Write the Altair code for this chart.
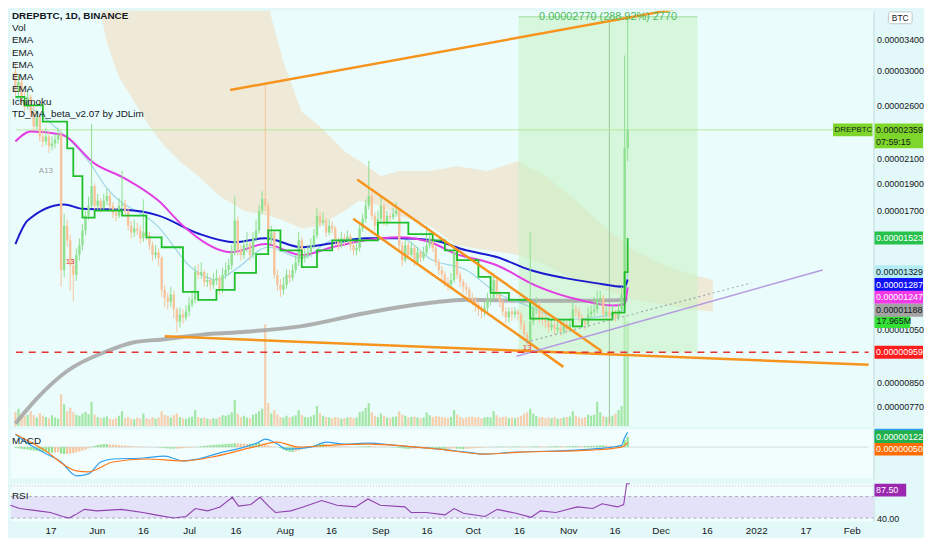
import altair as alt
import pandas as pd

FONT = "Liberation Sans"

# ---------------- data (prices in satoshi = 1e-8 BTC, day 0 = 2021-05-04) ----------------
first_open = 2978
closes = [2750,2862,2643,2590,2695,2538,2391,2488,2297,2251,
          2297,2207,2233,2269,2315,1338,1601,1509,1364,1312,
          1421,1479,1570,1667,1735,1880,1735,1770,1721,1770,
          1806,1735,1687,1667,1735,1749,1701,1601,1557,1582,
          1570,1521,1557,1539,1479,1421,1438,1404,1235,1196,
          1177,1210,1140,1086,1117,1104,1131,1163,1186,1327,
          1312,1327,1275,1285,1260,1285,1296,1235,1312,1338,
          1364,1438,1634,1449,1421,1479,1485,1421,1521,1570,
          1701,1785,1735,1509,1557,1312,1260,1235,1260,1312,
          1296,1338,1381,1509,1404,1421,1438,1479,1539,1667,
          1621,1634,1557,1601,1582,1509,1479,1521,1509,1533,
          1479,1449,1462,1582,1647,1735,1806,1667,1601,1647,
          1735,1621,1667,1654,1680,1701,1479,1392,1479,1421,
          1462,1381,1438,1404,1438,1479,1521,1462,1381,1338,
          1312,1275,1260,1285,1438,1312,1275,1250,1235,1196,
          1186,1163,1140,1131,1149,1186,1196,1285,1210,1177,
          1131,1104,1131,1117,1131,1117,1073,1031,1003,1086,
          1149,1163,1104,1095,1086,1060,1073,1052,1060,1043,
          1073,1052,1073,1140,1131,1104,1086,1073,1117,1131,
          1140,1186,1196,1117,1131,1113,1126,1104,1140,1210,
          2189,2359]
highs = [3100,2950,2900,2750,2780,2720,2600,2560,2520,2360,
         2380,2340,2300,2320,2380,2340,1680,1640,1540,1400,
         1460,1520,1610,1700,1800,2420,1900,1820,1790,1820,
         1860,1830,1760,1720,1790,2000,1780,1720,1630,1640,
         1620,1600,1780,1590,1560,1500,1480,1460,1420,1260,
         1220,1250,1230,1150,1150,1140,1160,1200,1230,1360,
         1370,1380,1340,1320,1300,1320,1340,1310,1350,1380,
         1400,1480,1800,1660,1480,1510,1560,1500,1560,1640,
         1740,1840,2862,1760,1600,1570,1340,1290,1300,1340,
         1340,1370,1420,1560,1530,1460,1480,1520,1580,1720,
         1690,1690,1650,1640,1630,1600,1530,1560,1550,1570,
         1550,1500,1500,1620,1680,1780,2080,1830,1690,1700,
         1800,1750,1700,1690,1720,1760,1720,1500,1510,1500,
         1500,1480,1470,1450,1470,1600,1560,1540,1480,1400,
         1360,1330,1300,1320,1480,1450,1330,1290,1270,1250,
         1220,1200,1180,1160,1180,1220,1230,1320,1300,1230,
         1190,1150,1150,1150,1150,1140,1130,1090,1040,1560,
         1180,1200,1180,1130,1120,1100,1100,1090,1090,1075,
         1100,1090,1100,1180,1160,1150,1120,1100,1150,1160,
         1200,1230,1230,1210,1160,1150,1160,1140,1170,1250,
         3189,3743]
lows = [2700,2700,2600,2540,2560,2480,2350,2360,2250,2200,
        2220,2150,2170,2190,2230,1250,1300,1470,1230,1180,
        1280,1390,1450,1540,1640,1720,1700,1700,1690,1700,
        1740,1700,1650,1630,1650,1700,1670,1570,1520,1530,
        1540,1490,1500,1510,1450,1390,1400,1360,1200,1150,
        1140,1150,1100,1040,1060,1075,1090,1110,1150,1170,
        1290,1290,1250,1250,1230,1240,1260,1210,1220,1290,
        1310,1340,1420,1420,1390,1400,1440,1390,1400,1500,
        1550,1680,1700,1480,1480,1290,1230,1200,1210,1240,
        1270,1280,1320,1360,1380,1380,1400,1410,1460,1520,
        1590,1600,1530,1540,1550,1480,1450,1460,1480,1490,
        1450,1420,1420,1440,1560,1620,1710,1640,1570,1580,
        1620,1600,1600,1630,1640,1660,1450,1360,1380,1400,
        1410,1360,1370,1380,1390,1420,1460,1440,1360,1310,
        1280,1250,1230,1240,1270,1290,1250,1220,1210,1170,
        1160,1130,1110,1100,1110,1130,1160,1180,1190,1150,
        1110,1080,1080,1090,1100,1090,1050,1010,985,990,
        1070,1120,1080,1070,1060,1040,1045,1030,1035,1025,
        1030,1035,1040,1060,1110,1085,1065,1050,1060,1100,
        1110,1120,1160,1100,1100,1095,1100,1085,1090,1120,
        1190,2078]
volumes = [2.5,3.0,2.2,1.8,2.0,2.6,1.9,1.5,2.2,1.8,
           1.6,1.4,1.9,1.5,1.3,5.5,3.8,2.6,3.2,2.4,
           2.0,1.8,2.2,2.5,2.1,4.2,2.0,1.6,1.4,1.5,
           1.7,1.3,1.2,1.4,1.8,2.6,1.4,1.6,1.3,1.2,
           1.5,1.3,2.2,1.4,1.2,1.6,1.3,1.5,2.6,2.0,
           1.8,1.5,1.9,2.2,1.6,1.4,1.3,1.5,1.7,2.8,
           1.6,1.4,1.5,1.3,1.2,1.4,1.3,1.6,1.9,1.8,
           2.0,2.4,4.5,2.2,1.6,1.8,1.5,1.4,2.0,2.2,
           2.6,3.0,17.5,4.0,2.2,2.8,2.0,1.6,1.5,1.8,
           1.5,1.7,1.9,2.8,2.0,1.6,1.5,1.7,2.0,3.5,
           2.2,1.8,1.6,1.5,1.4,1.6,1.5,1.3,1.4,1.5,
           1.6,1.4,1.5,2.4,2.6,3.2,4.0,2.4,1.8,1.6,
           2.2,1.8,1.5,1.4,1.6,1.7,2.6,2.0,1.8,1.5,
           1.6,1.7,1.5,1.4,1.5,2.4,1.9,1.6,1.8,1.7,
           1.6,1.5,1.4,1.6,2.8,2.0,1.6,1.4,1.5,1.6,
           1.7,1.5,1.6,1.4,1.5,1.6,1.5,2.6,1.9,1.5,
           1.6,1.7,1.4,1.5,1.4,1.6,1.8,2.2,2.4,3.0,
           2.2,1.8,1.5,1.6,1.4,1.5,1.4,1.6,1.3,1.4,
           1.5,1.6,1.7,2.6,1.8,1.5,1.4,1.6,2.0,1.8,
           2.0,4.2,2.4,1.8,1.6,1.7,1.8,2.2,2.8,3.5,
           19.0,17.965]

# moving averages / indicators (day, value)
tenkan_days = [0,3,9,17,19,22,26,35,43,48,55,60,66,72,79,83,87,94,99,104,113,119,129,137,141,145,152,156,162,169,175,183,186,196,200,201]
tenkan_vals = [2695,2605,2439,2189,1957,1654,1701,1667,1527,1467,1225,1186,1235,1322,1427,1570,1449,1354,1449,1509,1509,1621,1547,1509,1449,1392,1301,1220,1186,1099,1095,1065,1095,1126,1327,1523]
cyan_days = [0,11,24,30,47,58,66,72,83,94,104,115,126,137,148,158,169,180,190,200,201]
cyan_vals = [2695,2439,2078,1863,1592,1347,1285,1338,1467,1404,1509,1521,1527,1392,1338,1220,1153,1095,1104,1140,1329]
magenta_days = [0,5,15,26,36,47,55,71,82,94,104,115,126,137,144,158,171,185,196,200,201]
magenta_vals = [2251,2343,2315,2058,1937,1770,1601,1438,1486,1421,1467,1509,1527,1491,1433,1364,1255,1186,1159,1165,1247]
blue_days = [0,4,16,22,36,47,60,72,82,94,104,115,126,137,148,158,169,180,190,200,201]
blue_vals = [1485,1634,1744,1714,1707,1667,1551,1497,1521,1467,1491,1521,1521,1509,1449,1410,1338,1296,1270,1250,1287]
grey_days = [0,7,17,30,39,49,62,72,94,115,137,148,169,190,201]
grey_vals = [719,795,889,963,999,1011,1031,1039,1066,1124,1173,1186,1181,1181,1188]

cloud_days = [28,30,34,39,44,49,54,60,67,75,83,88,94,100,108,113,120,126,136,145,155,165,174,184,193,203,213,222,229]
cloud_top = [3900,3900,3900,3900,3900,3900,3900,3900,3900,3900,3900,3100,2538,2391,2163,2078,1957,1997,1997,2037,1997,2078,1957,1770,1601,1449,1364,1312,1285]
cloud_bot = [3800,3359,2919,2643,2391,2207,2078,1957,1806,1701,1667,1634,1582,1601,1701,1770,1735,1667,1601,1479,1449,1421,1364,1285,1235,1186,1163,1140,1131]

# drawings: (day0, price0, day1, price1)
trend_lines = [(70.5, 2772, 227.8, 3943),
               (112.2, 1930, 192.5, 963),
               (110.9, 1647, 179.9, 904),
               (49.0, 1023, 280.1, 912)]
purple_line = (164.5, 944, 265.0, 1338)
dotted_line = (167.7, 999, 241.6, 1270)
support_price = 959
measure = dict(d0=165.2, d1=223.9, p0=959, p1=3728)
measure_text = "0.00002770 (288.92%) 2770"
measure_vline_day = 195
last_price = 2359

macd_hist = [-10,-15,-20,-25,-30,-35,
             -40,-45,-50,-55,-60,-62,-65,-60,-58,-75,-80,-78,-75,-70,-60,-50,-40,-30,-15,
             5,15,25,30,35,35,30,28,25,22,20,18,15,12,10,
             8,6,5,3,2,0,-2,-4,
             -8,-12,-15,-18,-20,-18,-15,-12,-10,-8,-5,-2,
             5,10,15,18,22,25,28,30,32,35,38,40,45,42,40,38,36,40,42,44,46,40,30,
             20,10,5,0,
             -15,-30,-45,-55,-58,-50,-40,-28,-15,
             0,10,20,30,38,40,35,28,20,12,
             8,6,5,4,3,2,2,5,8,10,12,10,8,5,3,2,0,-2,-4,-6,
             -10,-15,-20,-22,-20,-18,-15,-12,-10,-8,
             -10,-12,-15,-18,-20,-22,-20,-18,-15,-18,-20,-22,-20,-18,-15,-12,-10,-8,-5,-2,
             2,3,4,5,6,5,4,5,6,8,6,5,4,6,8,10,8,6,5,6,8,10,12,10,8,9,10,12,14,12,10,12,14,15,
             16,18,20,22,18,16,14,15,18,25,80,122]
macd_days = [0,3,9,15,20,24,28,32,42,49,55,60,68,74,80,82,86,89,97,102,108,116,124,131,139,148,154,164,177,189,196,199,200,201]
macd_vals = [150,69,-58,-173,-334,-311,-173,-138,-127,-104,-161,-138,-58,-12,58,92,35,-23,0,58,35,46,23,0,-23,-58,-81,-58,-46,-23,0,20,110,172]
signal_days = [0,9,20,24,32,43,55,66,78,86,93,104,116,128,139,154,166,189,199,200,201]
signal_vals = [150,-23,-276,-288,-173,-138,-161,-104,0,58,0,23,35,12,-23,-81,-58,-35,0,20,50]
rsi_days = [0,3,9,13,17,19,21,24,28,36,43,47,53,57,60,64,68,72,74,78,81,84,86,91,95,101,106,112,116,120,128,130,135,141,144,147,154,158,164,169,172,177,184,189,192,197,199,200,201]
rsi_vals = [51.9,48.9,46.7,45.2,41.5,40.0,43.0,48.1,46.7,48.1,45.2,43.0,40.0,41.5,48.9,46.7,50.4,59.3,51.1,52.6,59.3,50.4,45.2,46.7,50.4,56.3,51.9,50.4,57.8,51.9,50.4,45.2,45.2,43.0,48.9,44.4,41.5,48.1,44.4,40.7,46.7,45.2,50.4,48.9,53.3,50.4,52.6,84.0,87.5]

tick_days = [13,28,43,58,73,89,104,120,135,150,165,181,196,211,226,242,258,273]
tick_labels = ["17","Jun","16","Jul","16","Aug","16","Sep","16","Oct","16","Nov","16","Dec","16","2022","17","Feb"]
price_ticks = [770, 850, 1050, 1700, 1900, 2100, 2600, 3000, 3400]
rsi_ticks = [40]
legend_lines = ["DREPBTC, 1D, BINANCE", "Vol", "EMA", "EMA", "EMA", "EMA", "EMA", "Ichimoku", "TD_MA_beta_v2.07 by JDLim"]
td_labels = [("A13", 10, 1997, "#9e9e9e"), ("13", 18, 1381, "#e53935"), ("13", 168, 975, "#e53935")]

# ---------------- styles ----------------
W, H = 872, 420
X0, X1 = 0.16, 280.1
BG = "#e3f8f8"
MAIN_BG = "#eafcfc"
PANEL_BG = "#f2fefe"
TXT = "#131722"
UP, DOWN = "#4c9e3a", "#f06a6a"
ORANGE = "#f7941d"
BOX_W = 50

xs = alt.Scale(domain=[X0, X1], nice=False, zero=False)
ps = alt.Scale(type="log", domain=[710.7, 3818.6], nice=False, zero=False)
price_axis = alt.Axis(orient="right", values=price_ticks,
                      labelExpr="format(datum.value/100000000, '.8f')",
                      title=None, grid=False, ticks=False, domain=True, domainColor="#c3dcdc",
                      labelFontSize=9, labelColor=TXT, labelPadding=3, labelFont=FONT)


def X(f="day"):
    return alt.X(f + ":Q", scale=xs, axis=None)


def PY(f):
    return alt.Y(f + ":Q", scale=ps, axis=price_axis)


def line_df(days, vals):
    return pd.DataFrame({"day": days, "v": vals})


n = len(closes)
opens = [first_open] + closes[:-1]
candles = pd.DataFrame({"day": list(range(n)), "open": opens, "close": closes,
                        "high": highs, "low": lows, "vol": volumes})
candles["dir"] = ["up" if c >= o else "down" for o, c in zip(opens, closes)]
dir_color = alt.Color("dir:N", scale=alt.Scale(domain=["up", "down"], range=[UP, DOWN]), legend=None)

# ---------------- volume layer ----------------
vs = alt.Scale(domain=[0, 71.2], nice=False, zero=True)
vol_bars = alt.Chart(candles).mark_bar(size=2.2, opacity=0.8, clip=True).encode(
    x=X(), y=alt.Y("vol:Q", scale=vs, axis=None),
    color=alt.Color("dir:N", scale=alt.Scale(domain=["up", "down"], range=["#8fe08f", "#f7c39a"]), legend=None))
vol_last = pd.DataFrame({"v": [volumes[-1]], "t": [f"{volumes[-1]:.3f}M"]})
vol_box = alt.Chart(vol_last).mark_rect(fill="#33e033", yOffset=-6.5, y2Offset=6.5).encode(
    x=alt.value(W + 1), x2=alt.value(W + 37), y=alt.Y("v:Q", scale=vs, axis=None), y2="v:Q")
vol_txt = alt.Chart(vol_last).mark_text(align="left", baseline="middle", font=FONT, fontSize=9, color=TXT).encode(
    x=alt.value(W + 3), y=alt.Y("v:Q", scale=vs, axis=None), text="t:N")
vol_layer = alt.layer(vol_bars, vol_box, vol_txt)

# ---------------- price layers ----------------
P = []
cloud = pd.DataFrame({"day": cloud_days, "top": cloud_top, "bot": cloud_bot})
P.append(alt.Chart(cloud).mark_area(color="#f1dcc0", opacity=0.6, clip=True).encode(
    x=X(), y=PY("top"), y2="bot:Q"))

mdf = pd.DataFrame({k: [v] for k, v in measure.items()})
P.append(alt.Chart(mdf).mark_rect(color="#c6f2c2", opacity=0.55, clip=True).encode(
    x=alt.X("d0:Q", scale=xs, axis=None), x2="d1:Q", y=PY("p0"), y2="p1:Q"))
P.append(alt.Chart(mdf).mark_rule(color="#9fdc9a", strokeWidth=1, clip=True).encode(
    x=alt.X("d0:Q", scale=xs, axis=None), x2="d1:Q", y=PY("p1")))
vdf = pd.DataFrame({"day": [measure_vline_day], "a": [720], "b": [measure["p1"]]})
P.append(alt.Chart(vdf).mark_rule(color="#9cc79c", strokeWidth=1, clip=True).encode(
    x=X(), y=PY("a"), y2="b:Q"))
lp = pd.DataFrame({"a": [X0], "b": [X1], "p": [last_price]})
P.append(alt.Chart(lp).mark_rule(color="#b5e89a", strokeWidth=1, clip=True).encode(
    x=alt.X("a:Q", scale=xs, axis=None), x2="b:Q", y=PY("p")))

P.append(alt.Chart(line_df(grey_days, grey_vals)).mark_line(
    color="#a9a9a9", strokeWidth=4, opacity=0.9, interpolate="monotone", clip=True).encode(x=X(), y=PY("v")))
P.append(alt.Chart(line_df(cyan_days, cyan_vals)).mark_line(
    color="#9ed6e4", strokeWidth=1.2, interpolate="monotone", clip=True).encode(x=X(), y=PY("v")))
P.append(alt.Chart(line_df(blue_days, blue_vals)).mark_line(
    color="#1a1ad0", strokeWidth=2, interpolate="monotone", clip=True).encode(x=X(), y=PY("v")))
P.append(alt.Chart(line_df(magenta_days, magenta_vals)).mark_line(
    color="#e33ee3", strokeWidth=2, interpolate="monotone", clip=True).encode(x=X(), y=PY("v")))

# candles
P.append(alt.Chart(candles).mark_rule(strokeWidth=1, clip=True).encode(
    x=X(), y=PY("low"), y2="high:Q", color=dir_color))
P.append(alt.Chart(candles).mark_bar(size=2.4, clip=True).encode(
    x=X(), y=PY("open"), y2="close:Q", color=dir_color))

P.append(alt.Chart(line_df(tenkan_days, tenkan_vals)).mark_line(
    color="#1fbf2a", strokeWidth=1.8, interpolate="step-after", clip=True).encode(x=X(), y=PY("v")))

# drawings
for (d0, p0, d1, p1) in trend_lines:
    P.append(alt.Chart(pd.DataFrame({"day": [d0, d1], "v": [p0, p1]})).mark_line(
        color=ORANGE, strokeWidth=2.5, clip=True).encode(x=X(), y=PY("v")))
d0, p0, d1, p1 = purple_line
P.append(alt.Chart(pd.DataFrame({"day": [d0, d1], "v": [p0, p1]})).mark_line(
    color="#b59be0", strokeWidth=1.5, clip=True).encode(x=X(), y=PY("v")))
d0, p0, d1, p1 = dotted_line
P.append(alt.Chart(pd.DataFrame({"day": [d0, d1], "v": [p0, p1]})).mark_line(
    color="#9aaaaa", strokeWidth=1.2, strokeDash=[2, 3], clip=True).encode(x=X(), y=PY("v")))
sup = pd.DataFrame({"a": [X0], "b": [X1], "p": [support_price]})
P.append(alt.Chart(sup).mark_rule(color="#e8322f", strokeWidth=1.6, strokeDash=[7, 6]).encode(
    x=alt.X("a:Q", scale=xs, axis=None), x2="b:Q", y=PY("p")))

# text annotations
P.append(alt.Chart(pd.DataFrame({"day": [(measure["d0"] + measure["d1"]) / 2], "t": [measure_text]})).mark_text(
    baseline="top", align="center", font=FONT, fontSize=11, color="#4cbb5a").encode(
    x=X(), y=alt.value(0), text="t:N"))
for (t, d, p, c) in td_labels:
    P.append(alt.Chart(pd.DataFrame({"day": [d], "p": [p], "t": [t]})).mark_text(
        font=FONT, fontSize=8, color=c).encode(x=X(), y=PY("p"), text="t:N"))
for k, t in enumerate(legend_lines):
    P.append(alt.Chart(pd.DataFrame({"t": [t]})).mark_text(
        align="left", baseline="middle", font=FONT, fontSize=10, color=TXT,
        fontWeight="bold" if k == 0 else "normal").encode(
        x=alt.value(1), y=alt.value(5 + 12.4 * k), text="t:N"))


def box_layers(yenc, value, fill, tc, txt, nudge=0.0, x0=W + 1, x1=W + BOX_W, extra=0.0, fs=9):
    d = pd.DataFrame({"p": [value], "t": [txt]})
    r = alt.Chart(d).mark_rect(fill=fill, yOffset=nudge - 6.5, y2Offset=nudge + 6.5 + extra).encode(
        x=alt.value(x0), x2=alt.value(x1), y=yenc, y2="p:Q")
    tt = alt.Chart(d).mark_text(align="left", baseline="middle", font=FONT, fontSize=fs, color=tc,
                                yOffset=nudge).encode(x=alt.value(x0 + 1.5), y=yenc, text="t:N")
    return [r, tt]


# right-hand price labels
box_prices = [1523, 1329, 1287, 1247, 1188, 959]
box_fills = ["#27c24c", "#b4ecf3", "#1111f5", "#f23be6", "#a3a3a3", "#ff1c1c"]
box_tcolors = ["white", TXT, "white", "white", TXT, "white"]
box_nudges = [0, 0, 5, 10, 11, 0]
for p, f, tc, nd in zip(box_prices, box_fills, box_tcolors, box_nudges):
    P += box_layers(PY("p"), p, f, tc, f"{p / 1e8:.8f}", nd)
P += box_layers(PY("p"), last_price, "#7fd62a", TXT, f"{last_price / 1e8:.8f}", 0, extra=12)
P.append(alt.Chart(pd.DataFrame({"p": [last_price], "t": ["07:59:15"]})).mark_text(
    align="left", baseline="middle", font=FONT, fontSize=9, color=TXT, yOffset=12).encode(
    x=alt.value(W + 2.5), y=PY("p"), text="t:N"))
P += box_layers(PY("p"), last_price, "#7fd62a", TXT, "DREPBTC", 0, x0=W - 41, x1=W - 1, fs=8)
P.append(alt.Chart(pd.DataFrame({"t": ["BTC"]})).mark_rect(
    fill="white", stroke="#b9c9c9", strokeWidth=1, cornerRadius=2).encode(
    x=alt.value(W + 15), x2=alt.value(W + 39), y=alt.value(1), y2=alt.value(13)))
P.append(alt.Chart(pd.DataFrame({"t": ["BTC"]})).mark_text(
    font=FONT, fontSize=8.5, color=TXT, baseline="middle").encode(
    x=alt.value(W + 27), y=alt.value(7), text="t:N"))

price_layer = alt.layer(*P)
main = alt.layer(vol_layer, price_layer).resolve_scale(y="independent").properties(
    width=W, height=H, view=alt.ViewBackground(fill=MAIN_BG, stroke=None))

# ---------------- MACD panel ----------------
MH = 50
ms = alt.Scale(domain=[-368, 207], nice=False, zero=False)
macd_axis = alt.Axis(orient="right", values=[0], labels=False, ticks=False, grid=False,
                     domain=True, domainColor="#c3dcdc", title=None)
hist = pd.DataFrame({"day": list(range(len(macd_hist))), "h": macd_hist})
prev = [macd_hist[0]] + macd_hist[:-1]
hist["c"] = [("pu" if h >= q else "pd") if h >= 0 else ("nd" if h <= q else "nu")
             for h, q in zip(macd_hist, prev)]
M = []
M.append(alt.Chart(pd.DataFrame({"a": [X0], "b": [X1], "z": [0]})).mark_rule(
    color="#d0dede", strokeWidth=1).encode(x=alt.X("a:Q", scale=xs, axis=None), x2="b:Q",
                                          y=alt.Y("z:Q", scale=ms, axis=macd_axis)))
M.append(alt.Chart(hist).mark_bar(size=2.2).encode(
    x=X(), y=alt.Y("h:Q", scale=ms, axis=macd_axis),
    color=alt.Color("c:N", scale=alt.Scale(domain=["pu", "pd", "nd", "nu"],
                                           range=["#2bb34a", "#b3e6b5", "#ff9a1f", "#ffe08a"]), legend=None)))
M.append(alt.Chart(line_df(macd_days, macd_vals)).mark_line(
    color="#2f9ff0", strokeWidth=1.2, interpolate="monotone").encode(x=X(), y=alt.Y("v:Q", scale=ms, axis=macd_axis)))
M.append(alt.Chart(line_df(signal_days, signal_vals)).mark_line(
    color="#ff7a1a", strokeWidth=1.2, interpolate="monotone").encode(x=X(), y=alt.Y("v:Q", scale=ms, axis=macd_axis)))
MY = alt.Y("p:Q", scale=ms, axis=macd_axis)
M += box_layers(MY, macd_vals[-1], "#2f9ff0", "#2f9ff0", "", 3)
M += box_layers(MY, signal_vals[-1], "#ff6d00", "white", f"{signal_vals[-1] / 1e8:.8f}", 6.4)
M += box_layers(MY, macd_hist[-1], "#22b14c", "white", f"{macd_hist[-1] / 1e8:.8f}", 0)
M.append(alt.Chart(pd.DataFrame({"t": ["MACD"]})).mark_text(
    align="left", baseline="middle", font=FONT, fontSize=10, color=TXT).encode(
    x=alt.value(1), y=alt.value(12), text="t:N"))
macd = alt.layer(*M).properties(width=W, height=MH, view=alt.ViewBackground(fill=PANEL_BG, stroke=None))

# ---------------- RSI panel ----------------
RH = 38
rs = alt.Scale(domain=[37, 72], nice=False, zero=False, clamp=True)
rsi_axis = alt.Axis(orient="right", values=rsi_ticks, format=".2f", grid=False, ticks=False,
                    domain=True, domainColor="#c3dcdc", title=None, labelFontSize=9,
                    labelColor=TXT, labelPadding=3, labelFont=FONT)
lbl_expr = "[" + ",".join(f"'{s}'" for s in tick_labels) + "][indexof([" + \
           ",".join(str(d) for d in tick_days) + "], datum.value)]"
x_axis = alt.Axis(values=tick_days, labelExpr=lbl_expr, ticks=False, domain=False, grid=False,
                  title=None, labelFontSize=10, labelColor=TXT, labelPadding=4, labelFont=FONT,
                  labelFlush=False, labelOverlap=False)
R = []
R.append(alt.Chart(pd.DataFrame({"a": [40], "b": [60]})).mark_rect(color="#e4e2f8").encode(
    x=alt.value(0), x2=alt.value(W), y=alt.Y("a:Q", scale=rs, axis=rsi_axis), y2="b:Q"))
R.append(alt.Chart(pd.DataFrame({"a": [40, 60]})).mark_rule(
    color="#a9a9b8", strokeDash=[3, 3], strokeWidth=1).encode(
    x=alt.value(0), x2=alt.value(W), y=alt.Y("a:Q", scale=rs, axis=rsi_axis)))
R.append(alt.Chart(pd.DataFrame({"a": [70]})).mark_rule(
    color="#c9b3d9", strokeDash=[1, 2], strokeWidth=1).encode(
    x=alt.value(0), x2=alt.value(W), y=alt.Y("a:Q", scale=rs, axis=rsi_axis)))
R.append(alt.Chart(line_df(rsi_days, rsi_vals)).mark_line(
    color="#9041b0", strokeWidth=1.1).encode(
    x=alt.X("day:Q", scale=xs, axis=x_axis), y=alt.Y("v:Q", scale=rs, axis=rsi_axis)))
R += box_layers(alt.Y("p:Q", scale=rs, axis=rsi_axis), rsi_vals[-1], "#9c27b0", "white",
                f"{rsi_vals[-1]:.2f}", 6.5, x1=W + 33)
R.append(alt.Chart(pd.DataFrame({"t": ["RSI"]})).mark_text(
    align="left", baseline="middle", font=FONT, fontSize=10, color=TXT).encode(
    x=alt.value(1), y=alt.value(12), text="t:N"))
rsi = alt.layer(*R).properties(width=W, height=RH, view=alt.ViewBackground(fill=PANEL_BG, stroke=None))

chart = alt.vconcat(main, macd, rsi, spacing=2).properties(
    padding=0, background=BG).configure_view(stroke=None)

chart.save("out.html", embed_options={"renderer": "svg", "actions": False})
